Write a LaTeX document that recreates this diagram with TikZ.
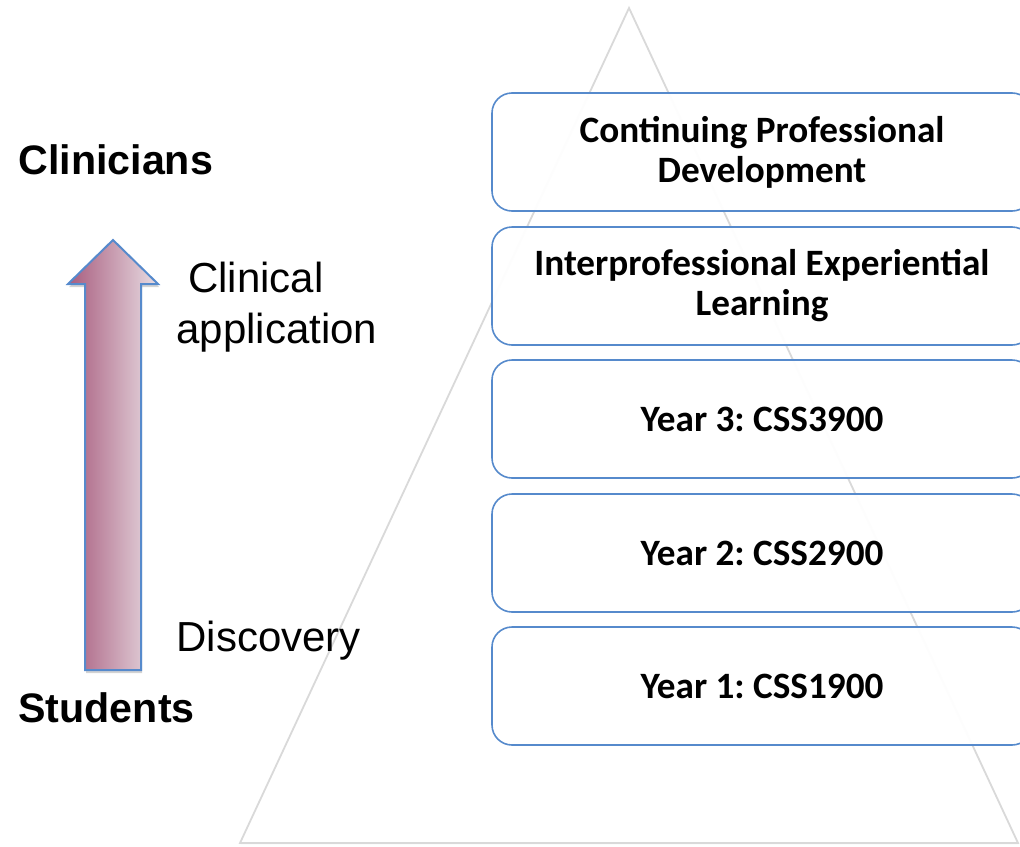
\documentclass[tikz,border=0pt]{standalone}
\usepackage{xcolor}
\usepackage{tikz}
\usepackage{fontspec}
\usetikzlibrary{shadows}
\setsansfont{Liberation Sans}
\newfontfamily\boxfont{Carlito}
\definecolor{boxblue}{RGB}{86,138,204}
\definecolor{plum}{RGB}{168,92,126}
\definecolor{pale}{RGB}{232,221,227}

\tikzset{
  level/.style={draw=boxblue, line width=0.8pt, fill=white, fill opacity=0.95, text opacity=1,
    rounded corners=10pt, minimum width=270pt, minimum height=59pt, align=center,
    font=\boxfont\bfseries\frenchspacing\fontsize{18.6}{20}\selectfont},
  side/.style={anchor=base west, inner sep=0pt, font=\sffamily\fontsize{21}{25.5}\selectfont},
  role/.style={anchor=base west, inner sep=0pt, font=\sffamily\bfseries\fontsize{20.6}{25}\selectfont}
}

\begin{document}
\begin{tikzpicture}[x=0.5pt, y=-0.5pt]

\useasboundingbox (0,0) rectangle (1020,846);
\clip (0,0) rectangle (1020,846);

\draw[gray!30, fill=white, line width=0.9pt, drop shadow={shadow xshift=0.3pt, shadow yshift=-0.6pt, opacity=0.2}]
  (629,8) -- (1018,843) -- (240,843) -- cycle;

\node[level] (cpd) at (762,152) {Continuing Professional\\Development};
\node[level] (iel) at (762,286) {Interprofessional Experiential\\Learning};
\node[level] (y3) at (762,419) {Year 3: CSS3900};
\node[level] (y2) at (762,553) {Year 2: CSS2900};
\node[level] (y1) at (762,686) {Year 1: CSS1900};

\draw[draw=boxblue, line width=1pt, left color=plum, right color=pale,
  drop shadow={shadow xshift=0.6pt, shadow yshift=-1.5pt, opacity=0.35}]
  (85,670) -- (85,284) -- (68,284) -- (113,240) -- (158,284) -- (141,284) -- (141,670) -- cycle;

\node[role] (clin) at (18,174) {Clinicians};
\node[role] (stud) at (18,722) {Students};
\node[side] (capp) at (176,292) {\ Clinical};
\node[side] (capp2) at (176,343) {application};
\node[side] (disc) at (176,651) {Discovery};
\end{tikzpicture}
\end{document}
